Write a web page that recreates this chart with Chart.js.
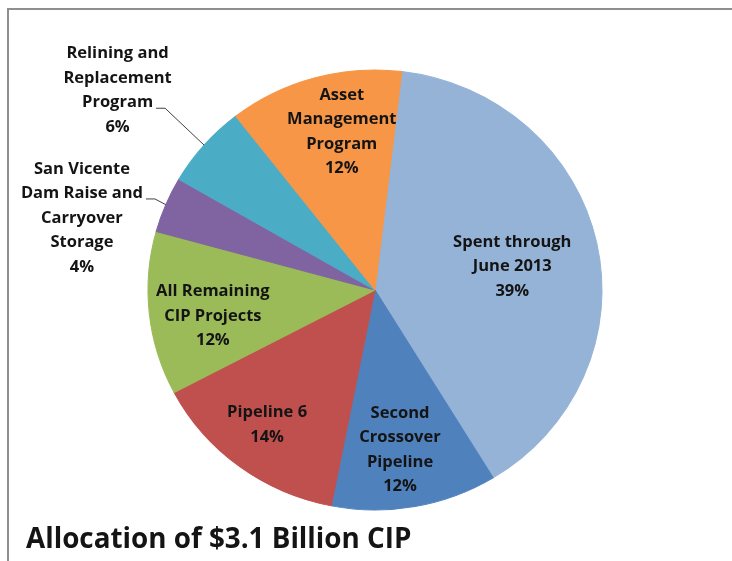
<!DOCTYPE html>
<html>
<head>
<meta charset="utf-8">
<script src="https://cdn.jsdelivr.net/npm/chart.js@4/dist/chart.umd.min.js"></script>
<style>
  html, body { margin: 0; padding: 0; background: #fff; }
  #wrap { position: relative; width: 732px; height: 561px; overflow: hidden; background: #fff; }
  #frame { position: absolute; left: 7px; top: 8px; right: -4px; bottom: -4px;
           border-top: 2px solid #8f8f8f; border-left: 2px solid #8f8f8f; }
  canvas { position: absolute; left: 0; top: 0; }
</style>
</head>
<body>
<div id="wrap">
  <div id="frame"></div>
  <canvas id="chart" width="732" height="561"></canvas>
</div>
<script>
// Capital Improvement Program allocation, share of total (percent)
const categories = [
  ['Spent through', 'June 2013'],
  ['Second', 'Crossover', 'Pipeline'],
  ['Pipeline 6'],
  ['All Remaining', 'CIP Projects'],
  ['San Vicente', 'Dam Raise and', 'Carryover', 'Storage'],
  ['Relining and', 'Replacement', 'Program'],
  ['Asset', 'Management', 'Program']
];
const shares = [39.4, 11.8, 14.2, 12.0, 4.1, 6.1, 12.4];
const sliceColors = ['#95B3D7', '#4F81BD', '#C0504D', '#9BBB59', '#8064A2', '#4BACC6', '#F79646'];
const chartTitle = 'Allocation of $3.1 Billion CIP';

// Label placement per slice: [radius fraction, angle shift in degrees]
// Outside labels add the index of the text line the leader line hooks into.
const labelPlacement = [
  { f: 0.614, shift: 2.3 },
  { f: 0.735, shift: 1.5 },
  { f: 0.776, shift: 1.1 },
  { f: 0.724, shift: -3.2 },
  { f: 1.054, shift: 0.3, outside: true, hook: 1 },
  { f: 1.24,  shift: 0.6, outside: true, hook: 2 },
  { f: 0.733, shift: 4.0 }
];

const STRETCH_X = 227 / 220;   // the pie is drawn slightly wider than tall
const FONT_FAMILY = '"Open Sans", Lato, sans-serif';
const LABEL_FONT = 'bold 16.5px ' + FONT_FAMILY;
const LINE_H = 24.5;

const stretchPlugin = {
  id: 'stretch',
  beforeDatasetsDraw(chart) {
    const a = chart.chartArea;
    const cx = (a.left + a.right) / 2, cy = (a.top + a.bottom) / 2;
    const ctx = chart.ctx;
    ctx.save();
    ctx.translate(cx, cy);
    ctx.scale(STRETCH_X, 1);
    ctx.translate(-cx, -cy);
  },
  afterDatasetsDraw(chart) {
    chart.ctx.restore();
  }
};

const labelPlugin = {
  id: 'sliceLabels',
  afterDraw(chart) {
    const ctx = chart.ctx;
    const meta = chart.getDatasetMeta(0);
    const data = chart.data.datasets[0].data;
    const total = data.reduce((s, v) => s + v, 0);
    ctx.save();
    ctx.font = LABEL_FONT;
    ctx.fillStyle = '#141414';
    ctx.textAlign = 'center';
    ctx.textBaseline = 'middle';
    meta.data.forEach((arc, i) => {
      const p = labelPlacement[i];
      const mid = (arc.startAngle + arc.endAngle) / 2;
      const ang = mid + p.shift * Math.PI / 180;
      const R = arc.outerRadius;
      const lines = categories[i].concat([Math.round(data[i] / total * 100) + '%']);
      if (!p.outside) {
        const x = arc.x + STRETCH_X * R * p.f * Math.cos(ang);
        const y = arc.y + R * p.f * Math.sin(ang);
        const y0 = y - (lines.length - 1) / 2 * LINE_H;
        lines.forEach((t, k) => ctx.fillText(t, x, y0 + k * LINE_H));
      } else {
        // leader line: slice edge -> elbow -> short horizontal tail
        const sx = arc.x + STRETCH_X * R * Math.cos(mid);
        const sy = arc.y + R * Math.sin(mid);
        const ex = arc.x + STRETCH_X * R * p.f * Math.cos(ang);
        const ey = arc.y + R * p.f * Math.sin(ang);
        const tx = ex - 9;
        ctx.strokeStyle = '#404040';
        ctx.lineWidth = 1;
        ctx.beginPath();
        ctx.moveTo(sx, sy);
        ctx.lineTo(ex, ey);
        ctx.lineTo(tx, ey);
        ctx.stroke();
        const hookW = ctx.measureText(lines[p.hook]).width;
        const cxText = tx - 3 - hookW / 2;
        const hookY = ey - 5.5;
        const y0 = hookY - p.hook * LINE_H;
        lines.forEach((t, k) => ctx.fillText(t, cxText, y0 + k * LINE_H));
      }
    });
    // chart title, bottom left
    ctx.textAlign = 'left';
    ctx.textBaseline = 'alphabetic';
    ctx.font = 'bold 30px ' + FONT_FAMILY;
    const w = ctx.measureText(chartTitle).width;
    const size = 30 * 385 / w;
    ctx.font = 'bold ' + size.toFixed(1) + 'px ' + FONT_FAMILY;
    ctx.fillText(chartTitle, 26, 548);
    ctx.restore();
  }
};

new Chart(document.getElementById('chart'), {
  type: 'pie',
  data: {
    labels: categories.map(c => c.join(' ')),
    datasets: [{
      data: shares,
      backgroundColor: sliceColors,
      borderColor: sliceColors,
      borderWidth: 1,
      hoverOffset: 0
    }]
  },
  options: {
    responsive: false,
    animation: false,
    events: [],
    rotation: 6.8,
    radius: 220,
    layout: { padding: { left: 155, right: 137, top: 70, bottom: 51 } },
    plugins: {
      legend: { display: false },
      tooltip: { enabled: false },
      title: { display: false }
    }
  },
  plugins: [stretchPlugin, labelPlugin]
});
</script>
</body>
</html>
